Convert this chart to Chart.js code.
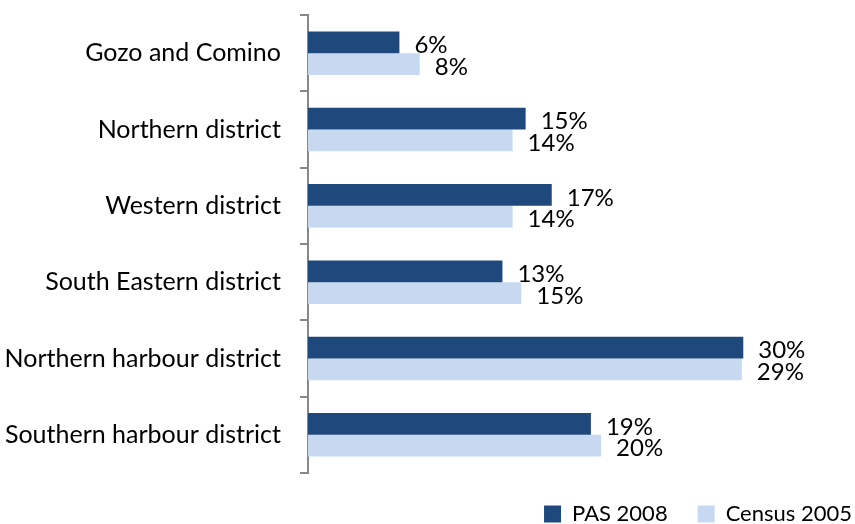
<!DOCTYPE html>
<html>
<head>
<meta charset="utf-8">
<script src="https://cdn.jsdelivr.net/npm/chart.js@4"></script>
<style>
    html, body { margin: 0; padding: 0; background: #fff; }
    #wrap { width: 855px; height: 524px; }
</style>
</head>
<body>
<div id="wrap"><canvas id="distritos"></canvas></div>
<script>
const categorias = ['Gozo and Comino', 'Northern district', 'Western district', 'South Eastern district', 'Northern harbour district', 'Southern harbour district'];
const pas2008 = [6.3, 15.0, 16.8, 13.4, 30.0, 19.5];
const census2005 = [7.7, 14.1, 14.1, 14.7, 29.9, 20.2];
const pasLabels = ['6%', '15%', '17%', '13%', '30%', '19%'];
const censusLabels = ['8%', '14%', '14%', '15%', '29%', '20%'];

const fonte = 'Lato, "Open Sans", sans-serif';

// rotulos de valor a direita das barras
const rotulos = {
    id: 'rotulos',
    afterDatasetsDraw(chart) {
        const ctx = chart.ctx;
        const textos = [pasLabels, censusLabels];
        ctx.save();
        ctx.font = '24px ' + fonte;
        ctx.fillStyle = '#000';
        ctx.textAlign = 'left';
        ctx.textBaseline = 'middle';
        chart.data.datasets.forEach((ds, i) => {
            chart.getDatasetMeta(i).data.forEach((bar, j) => {
                ctx.fillText(textos[i][j], bar.x + 15, bar.y + 3);
            });
        });
        ctx.restore();
    }
};

const distritos = document.getElementById('distritos');

new Chart(distritos, {
    type: 'bar',
    data: {
        labels: categorias,
        datasets: [
            {
                label: 'PAS 2008',
                data: pas2008,
                backgroundColor: '#1F497D',
                borderWidth: 0
            },
            {
                label: 'Census 2005',
                data: census2005,
                backgroundColor: '#C6D9F1',
                borderWidth: 0
            }
        ]
    },
    options: {
        responsive: true,
        maintainAspectRatio: false,
        animation: false,
        indexAxis: 'y',
        categoryPercentage: 0.57,
        barPercentage: 1,
        layout: {
            // negativo: a legenda pode passar um pouco da borda
            padding: { top: 0, right: -27, bottom: -15, left: 0 }
        },
        scales: {
            x: {
                display: false,
                min: 0,
                max: 37.7
            },
            y: {
                afterFit: (s) => {
                    s.width = 308;
                    s.paddingTop = 15;
                    s.paddingBottom = 51;
                },
                border: { color: '#888', width: 2 },
                grid: {
                    drawOnChartArea: false,
                    tickLength: 8,
                    color: '#888',
                    lineWidth: 2
                },
                ticks: {
                    padding: 19,
                    color: '#000',
                    font: { family: fonte, size: 25 }
                }
            }
        },
        plugins: {
            legend: {
                position: 'bottom',
                align: 'end',
                labels: {
                    color: '#000',
                    boxWidth: 17,
                    boxHeight: 17,
                    padding: 30,
                    font: { family: fonte, size: 22 }
                }
            },
            tooltip: { enabled: false }
        }
    },
    plugins: [rotulos]
});
</script>
</body>
</html>
